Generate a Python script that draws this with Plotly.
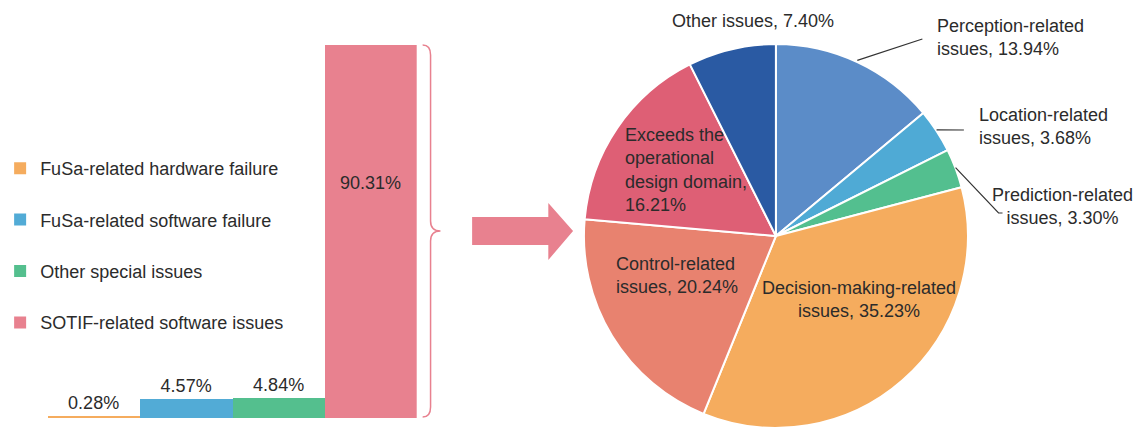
import math
import plotly.graph_objects as go

# ---------------- data ----------------
bar_categories = ["FuSa-related hardware failure", "FuSa-related software failure",
                  "Other special issues", "SOTIF-related software issues"]
bar_values = [0.28, 4.57, 4.84, 90.31]
bar_colors = ["#F5AC5E", "#52ABD6", "#54BF8E", "#E8818F"]

pie_labels = ["Perception-related<br>issues", "Location-related<br>issues",
              "Prediction-related<br>issues", "Decision-making-related<br>issues",
              "Control-related<br>issues", "Exceeds the<br>operational<br>design domain,<br>",
              "Other issues"]
pie_values = [13.94, 3.68, 3.30, 35.23, 20.24, 16.21, 7.40]
pie_colors = ["#5B8CC8", "#4FAAD5", "#53BF8F", "#F5AC5E", "#E8826F", "#DE5F75", "#2A5AA3"]

# ---------------- layout helpers ----------------
W, H = 1144, 430
FONT = "Liberation Sans, Arial, Helvetica, sans-serif"
TXT = "#2b2b2b"


def px(x):
    return x / W


def py(y):
    return 1 - y / H


fig = go.Figure()

# ---------------- bar chart ----------------
for i, (cat, val, col) in enumerate(zip(bar_categories, bar_values, bar_colors)):
    big = val > 50
    fig.add_trace(go.Bar(
        x=[i], y=[val], name=cat, legendgroup=cat,
        marker=dict(color=col, line=dict(width=0)),
        width=1,
        text=None if big else [f"{val:.2f}%"],
        textposition="outside",
        textfont=dict(size=18, color=TXT, family=FONT),
        cliponaxis=False,
        xaxis="x", yaxis="y",
        hoverinfo="skip",
    ))

# label inside the tall bar
big_i = max(range(len(bar_values)), key=lambda k: bar_values[k])
annotations = [dict(
    x=big_i, y=bar_values[big_i] * 0.63, xref="x", yref="y",
    text=f"{bar_values[big_i]:.2f}%", showarrow=False,
    font=dict(size=18, color=TXT, family=FONT))]

# ---------------- pie chart ----------------
cx, cy, R = 772, 236, 194
fig.add_trace(go.Pie(
    labels=pie_labels, values=pie_values, sort=False, direction="clockwise",
    rotation=0, textinfo="none", showlegend=False,
    marker=dict(colors=pie_colors, line=dict(color="white", width=2)),
    domain=dict(x=[px(cx - R), px(cx + R)], y=[0, py(cy - R)]),
    hoverinfo="skip",
))

# label placements (layout only): (x, y, xanchor, align)
label_pos = [
    (933, 38, "left", "left"),
    (975, 126, "left", "left"),
    (1062, 206, "center", "center"),
    (856, 299, "center", "center"),
    (608, 275, "left", "left"),
    (617, 170, "left", "left"),
    (749, 21, "center", "center"),
]
for lab, val, (lx, ly, xa, al) in zip(pie_labels, pie_values, label_pos):
    sep = "" if lab.endswith("<br>") else ", "
    annotations.append(dict(
        x=px(lx), y=py(ly), xref="paper", yref="paper",
        text=f"{lab}{sep}{val:.2f}%", showarrow=False, xanchor=xa, align=al,
        yanchor="middle", font=dict(size=18, color=TXT, family=FONT)))

# leader lines from slice mid-angles on the rim
total = sum(pie_values)
mids = []
acc = 0
for v in pie_values:
    mids.append((acc + v / 2) / total * 2 * math.pi)
    acc += v


def rim(k):
    a = mids[k]
    return cx + R * math.sin(a), cy - R * math.cos(a)


shapes = []
leader_ends = {0: [(920, 39)], 1: [(962, 130)], 2: [(997, 213), (1001, 213)]}
for k, pts in leader_ends.items():
    sx, sy = rim(k)
    path = f"M {px(sx)},{py(sy)}"
    for (ex, ey) in pts:
        path += f" L {px(ex)},{py(ey)}"
    shapes.append(dict(type="path", path=path, xref="paper", yref="paper",
                       line=dict(color="#333333", width=1.2)))

# curly brace next to the tall bar
bx0, bx1, btip, btop, bbot, bmid = 415, 423, 433, 45, 417, 231
brace = (f"M {px(bx0)},{py(btop)} Q {px(bx1)},{py(btop)} {px(bx1)},{py(btop + 10)} "
         f"L {px(bx1)},{py(bmid - 10)} Q {px(bx1)},{py(bmid)} {px(btip)},{py(bmid)} "
         f"Q {px(bx1)},{py(bmid)} {px(bx1)},{py(bmid + 10)} "
         f"L {px(bx1)},{py(bbot - 10)} Q {px(bx1)},{py(bbot)} {px(bx0)},{py(bbot)}")
shapes.append(dict(type="path", path=brace, xref="paper", yref="paper",
                   line=dict(color="#E8818F", width=1.5)))

# block arrow
arrow_pts = [(465, 217), (542, 217), (542, 203), (567, 231), (542, 260), (542, 245), (465, 245)]
apath = "M " + " L ".join(f"{px(x)},{py(y)}" for x, y in arrow_pts) + " Z"
shapes.append(dict(type="path", path=apath, xref="paper", yref="paper",
                   fillcolor="#E8818F", line=dict(width=0)))

fig.update_layout(
    width=W, height=H,
    margin=dict(l=0, r=0, t=0, b=0, pad=0),
    paper_bgcolor="white", plot_bgcolor="white",
    barmode="overlay", bargap=0,
    font=dict(family=FONT, size=18, color=TXT),
    xaxis=dict(domain=[px(36), px(409)], range=[-0.5, 3.5], visible=False, fixedrange=True),
    yaxis=dict(domain=[py(418), 1], range=[0, 418 / (373 / max(bar_values))],
               visible=False, fixedrange=True),
    legend=dict(x=-12 / W, xanchor="left", y=py(150), yanchor="top",
                tracegroupgap=25, traceorder="grouped",
                font=dict(size=18, color=TXT, family=FONT),
                bgcolor="rgba(0,0,0,0)"),
    annotations=annotations,
    shapes=shapes,
)

fig.write_html(
    "out.html",
    config={"displayModeBar": False},
    post_script="document.body.style.margin='0';document.body.style.overflow='hidden';",
)
